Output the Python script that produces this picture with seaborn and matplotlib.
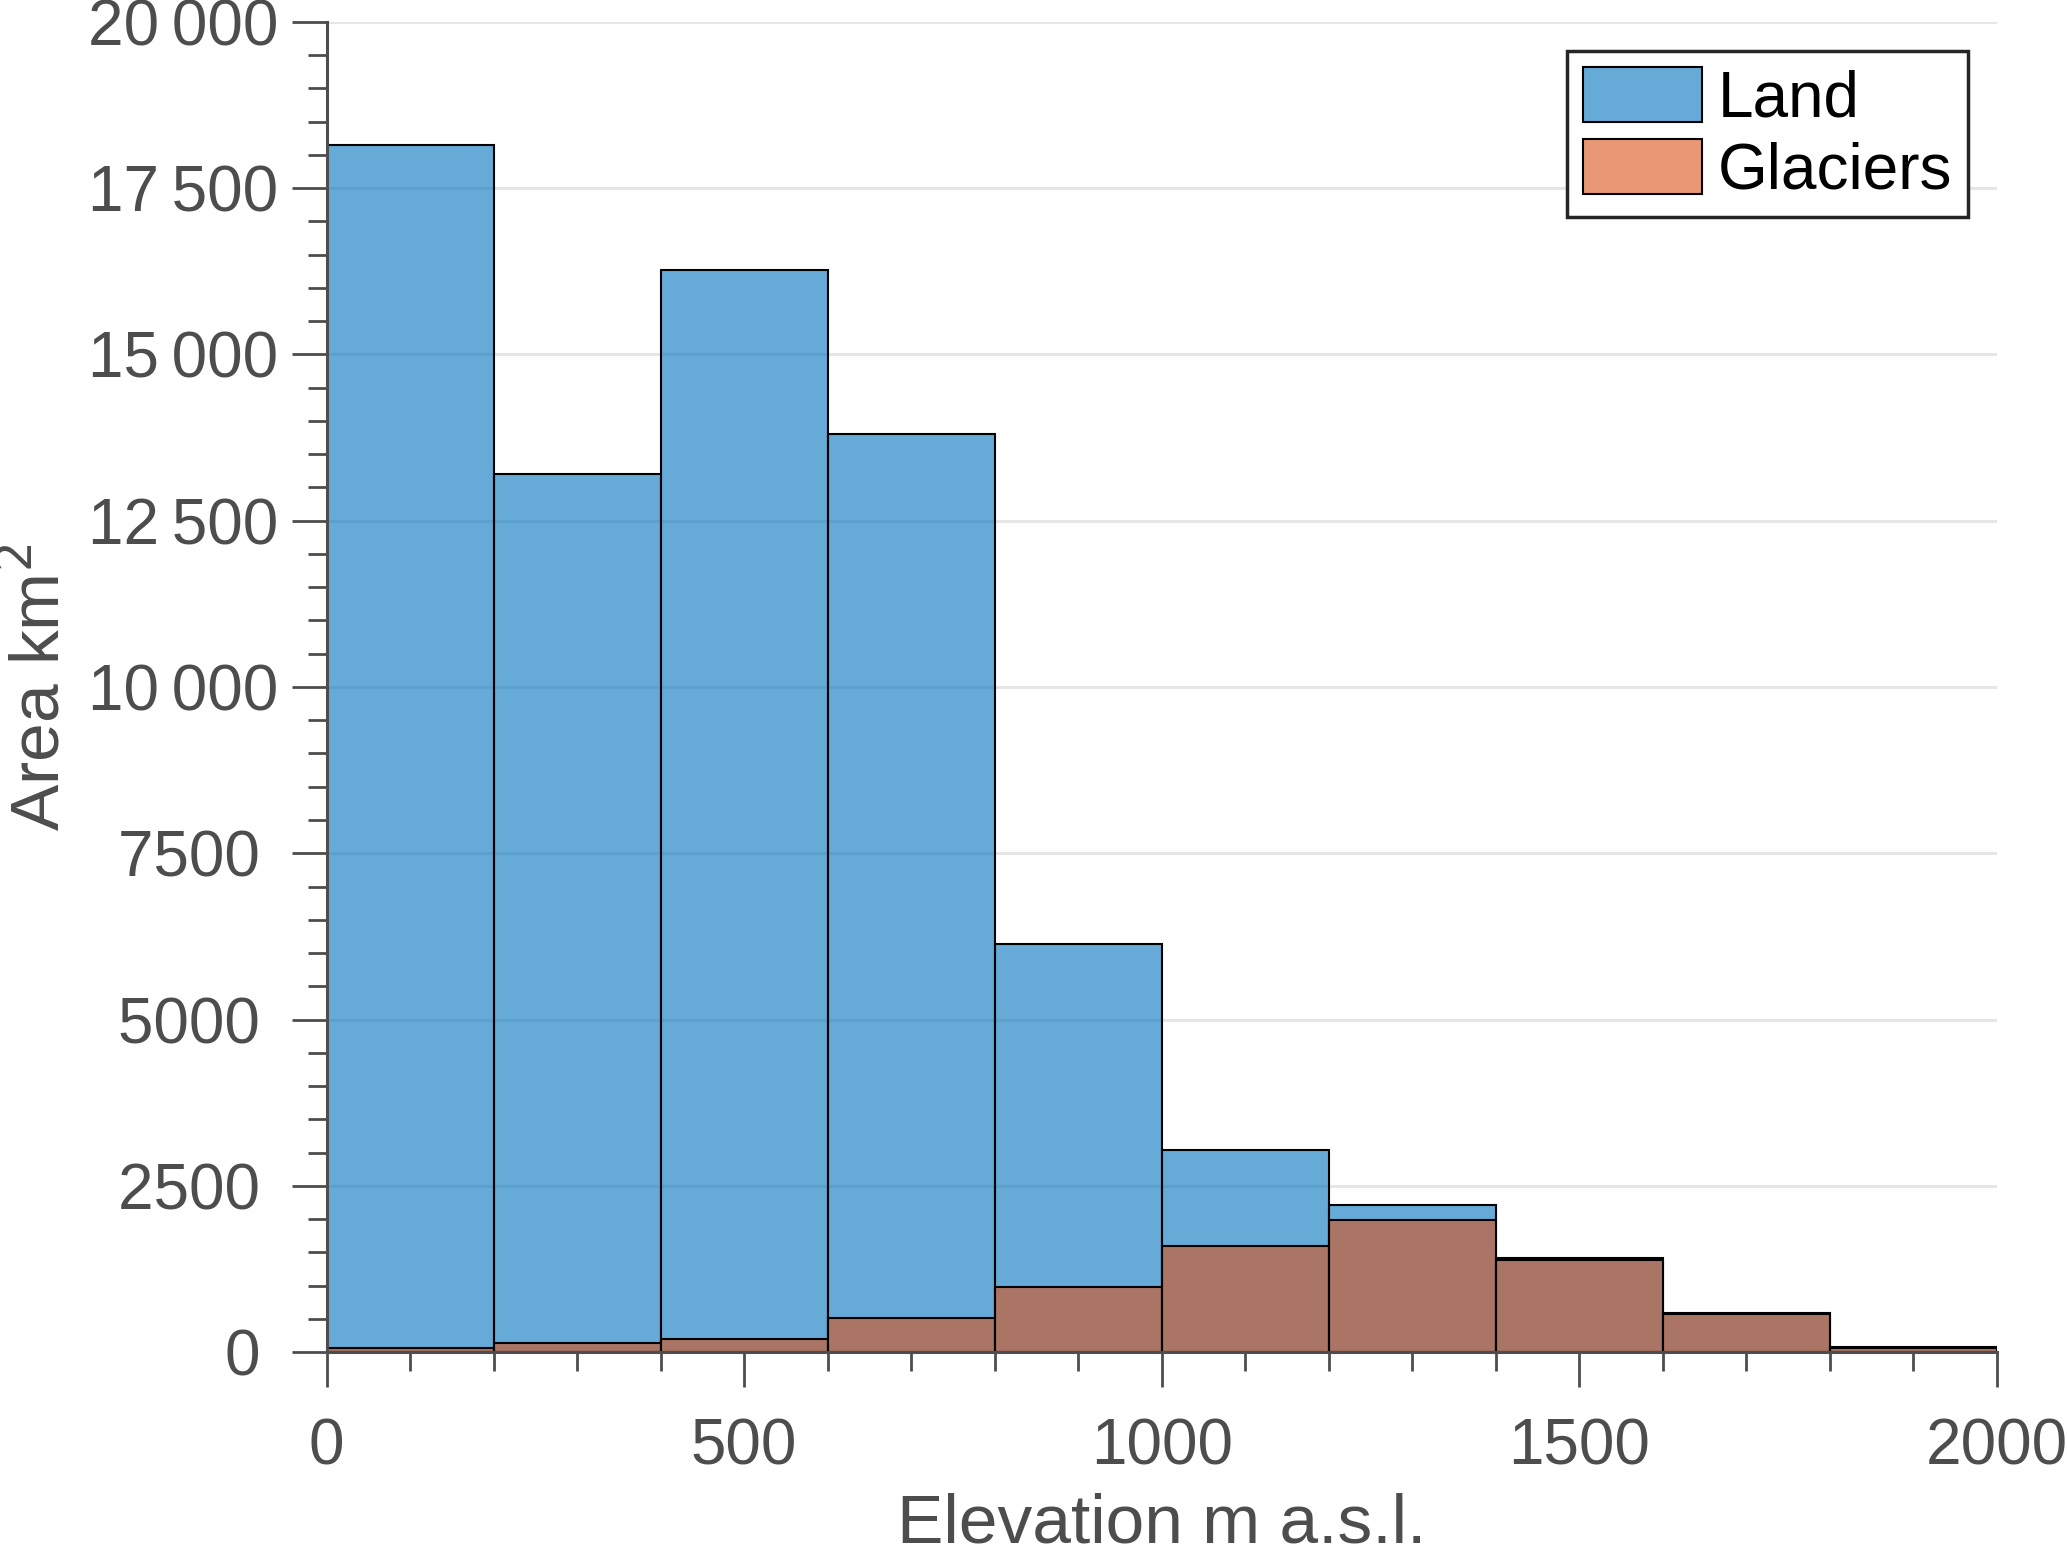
"""Elevation histogram of land and glacier area."""
import matplotlib

matplotlib.use("Agg")
import matplotlib.pyplot as plt
import numpy as np
import seaborn as sns
from matplotlib.ticker import FixedLocator, MultipleLocator

# --------------------------------------------------------------------------- #
# Data (km^2 per 200 m elevation band)
# --------------------------------------------------------------------------- #
bin_edges = [0, 200, 400, 600, 800, 1000, 1200, 1400, 1600, 1800, 2000]
land_area = [18150, 13200, 16270, 13800, 6130, 3040, 2210, 1420, 590, 80]
glacier_area = [60, 135, 200, 520, 980, 1600, 1990, 1390, 570, 70]

y_ticks = [0, 2500, 5000, 7500, 10000, 12500, 15000, 17500, 20000]
x_ticks = [0, 500, 1000, 1500, 2000]

LAND_COLOR = "#0072BD"
GLACIER_COLOR = "#D95319"
AXIS_GRAY = "#4D4D4D"

sns.set_theme(style="white")
plt.rcParams["font.family"] = ["Liberation Sans", "DejaVu Sans"]

centers = [(a + b) / 2 for a, b in zip(bin_edges[:-1], bin_edges[1:])]

fig = plt.figure(figsize=(20.67, 15.56), dpi=100)
ax = fig.add_axes([0.158, 0.131, 0.808, 0.855])

sns.histplot(x=centers, weights=land_area, bins=bin_edges, color=LAND_COLOR,
             alpha=0.6, edgecolor="black", linewidth=1.5, label="Land", ax=ax)
sns.histplot(x=centers, weights=glacier_area, bins=bin_edges, color=GLACIER_COLOR,
             alpha=0.6, edgecolor="black", linewidth=1.5, label="Glaciers", ax=ax)

ax.set_xlim(0, 2000)
ax.set_ylim(0, 20000)
ax.xaxis.set_major_locator(FixedLocator(x_ticks))
ax.xaxis.set_minor_locator(MultipleLocator(100))
ax.yaxis.set_major_locator(FixedLocator(y_ticks))
ax.yaxis.set_minor_locator(MultipleLocator(500))


def fmt(v):
    # thousands split by a thin space above 9999; shorter labels sit a bit left
    s = f"{int(v)}"
    return s[:-3] + "\u2009" + s[-3:] if v >= 10000 else s + " "


ax.set_xticklabels([str(t) for t in x_ticks])
ax.set_yticklabels([fmt(t) for t in y_ticks])

ax.grid(axis="y", which="major", color="#E6E6E6", linewidth=2.2)
ax.set_axisbelow(True)

for side in ("top", "right"):
    ax.spines[side].set_visible(False)
for side in ("left", "bottom"):
    ax.spines[side].set_color(AXIS_GRAY)
    ax.spines[side].set_linewidth(2.2)

ax.tick_params(axis="both", which="major", direction="out", length=25, width=2,
               color=AXIS_GRAY, labelcolor=AXIS_GRAY, labelsize=46)
ax.tick_params(axis="both", which="minor", direction="out", length=14, width=2,
               color=AXIS_GRAY)
ax.tick_params(axis="x", which="major", pad=22)
ax.tick_params(axis="y", which="major", pad=10)
ax.tick_params(left=True, bottom=True, which="both")

ax.set_xlabel("Elevation m a.s.l.", fontsize=50, color=AXIS_GRAY, labelpad=11)
ax.set_ylabel("Area km$^2$", fontsize=50, color=AXIS_GRAY, labelpad=10)

leg = ax.legend(loc="upper right", fontsize=46, frameon=True, fancybox=False,
                framealpha=1, edgecolor="#262626", handlelength=1.85,
                handleheight=0.95, handletextpad=0.25, borderpad=0.25,
                labelspacing=0.15, borderaxespad=0.45)
leg.get_frame().set_linewidth(2.5)
for t in leg.get_texts():
    t.set_color("black")

fig.savefig("out.png", dpi=100)
plt.close(fig)
